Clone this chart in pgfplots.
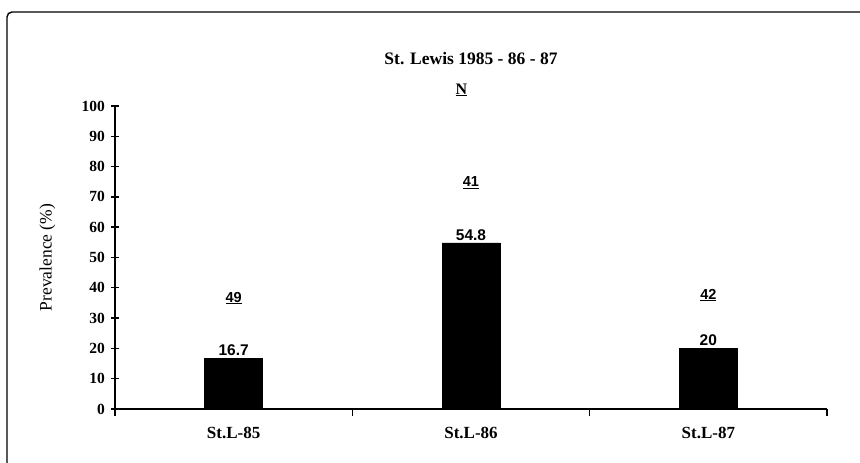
\documentclass[border=0pt]{standalone}
\usepackage{fontspec}
\setmainfont{Liberation Serif}
\newfontfamily\arial{Liberation Sans}
\usepackage{pgfplots}
\pgfplotsset{compat=1.18}
\begin{document}
\begin{tikzpicture}[x=1pt,y=1pt]
\path[use as bounding box] (0,0) rectangle (860,463);
\draw[line width=1.4pt, rounded corners=5pt] (7,-5) -- (7,451) -- (865,451);
\begin{axis}[
  at={(115pt,54pt)}, anchor=south west,
  scale only axis, width=712pt, height=303pt,
  xmin=-0.5, xmax=2.5, ymin=0, ymax=100,
  axis lines*=left,
  axis line style={line width=1.8pt},
  every tick/.style={black, line width=1.4pt},
  tick align=center,
  major tick length=7pt,
  ytick={0,10,...,100},
  xtick={-0.5,0.5,1.5,2.5},
  xticklabels={},
  extra x ticks={0,1,2},
  extra x tick labels={St.L-85, St.L-86, St.L-87},
  extra x tick style={major tick length=0pt, xticklabel style={font=\fontsize{17}{17}\selectfont\bfseries, yshift=-15pt}},
  /pgf/number format/assume math mode=true,
  yticklabel style={font=\fontsize{15.5}{15.5}\selectfont\bfseries, xshift=-3pt},
  ylabel={Prevalence (\%)},
  ylabel style={font=\fontsize{17.5}{17.5}\selectfont, at={(axis description cs:-0.095,0.5)}, anchor=center},
  clip=false,
  ybar, bar width=58pt,
  nodes near coords,
  point meta=explicit symbolic,
  every node near coord/.append style={font=\arial\fontsize{15.5}{15.5}\selectfont\bfseries, yshift=-1pt},
]
\addplot[fill=black, draw=black] coordinates {(0,16.7)[16.7] (1,54.8)[54.8] (2,20)[20]};
\node[font=\bfseries\fontsize{17.5}{17.5}\selectfont] at (axis cs:1,115.8) {St. Lewis 1985 - 86 - 87};
\node[font=\bfseries\fontsize{16}{16}\selectfont] at (axis cs:0.96,105.3) {\underline{N}};
\node[font=\arial\bfseries\fontsize{14.5}{14.5}\selectfont] at (axis cs:0,36.6) {\underline{49}};
\node[font=\arial\bfseries\fontsize{14.5}{14.5}\selectfont] at (axis cs:1,74.6) {\underline{41}};
\node[font=\arial\bfseries\fontsize{14.5}{14.5}\selectfont] at (axis cs:2,37.6) {\underline{42}};
\end{axis}
\end{tikzpicture}
\end{document}
